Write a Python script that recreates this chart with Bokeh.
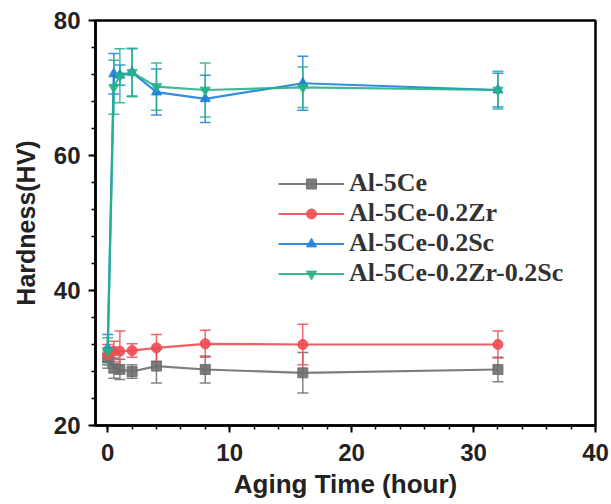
from bokeh.plotting import figure
from bokeh.models import (ColumnDataSource, Whisker, TeeHead, Legend, LegendItem,
                          SingleIntervalTicker, Range1d)
from bokeh.embed import file_html
from bokeh.resources import INLINE

# ---- data ----
time = [0, 0.5, 1, 2, 4, 8, 16, 32]
series_names = ["Al-5Ce", "Al-5Ce-0.2Zr", "Al-5Ce-0.2Sc", "Al-5Ce-0.2Zr-0.2Sc"]
al5ce = [30.0, 28.5, 28.3, 28.0, 28.8, 28.3, 27.8, 28.3]
al5ce_err = [1.5, 1.5, 1.5, 1.0, 2.5, 2.0, 3.0, 1.8]
al5ce_zr = [30.5, 31.0, 31.0, 31.1, 31.5, 32.1, 32.0, 32.0]
al5ce_zr_err = [1.5, 1.5, 3.0, 1.0, 2.0, 2.0, 3.0, 2.0]
al5ce_sc = [31.5, 72.1, 71.9, 72.3, 69.4, 68.4, 70.7, 69.7]
al5ce_sc_err = [2.0, 3.0, 1.5, 3.5, 3.4, 3.5, 4.0, 2.5]
al5ce_zrsc = [31.0, 70.1, 71.8, 72.3, 70.2, 69.7, 70.1, 69.7]
al5ce_zrsc_err = [2.0, 4.0, 4.0, 3.6, 3.5, 4.0, 3.0, 2.8]

colors = ["#6e6e6e", "#f04c50", "#1f7fdc", "#22b487"]
markers = ["square", "circle", "triangle", "inverted_triangle"]
values = [al5ce, al5ce_zr, al5ce_sc, al5ce_zrsc]
errors = [al5ce_err, al5ce_zr_err, al5ce_sc_err, al5ce_zrsc_err]

p = figure(width=611, height=504, output_backend="svg", toolbar_location=None,
           x_range=Range1d(-1.0, 40), y_range=Range1d(20, 80),
           min_border_left=95, min_border_right=16, min_border_top=20,
           min_border_bottom=79)
p.background_fill_color = "white"
p.border_fill_color = "white"
p.grid.visible = False
p.outline_line_color = "black"
p.outline_line_width = 2.5

items = []
for name, ys, es, c, m in zip(series_names, values, errors, colors, markers):
    src = ColumnDataSource(dict(x=time, y=ys,
                                up=[a + b for a, b in zip(ys, es)],
                                lo=[a - b for a, b in zip(ys, es)]))
    w = Whisker(base="x", upper="up", lower="lo", source=src, dimension="height",
                line_color=c, line_width=1.5, line_alpha=0.85,
                upper_head=TeeHead(size=11, line_color=c, line_width=1.5, line_alpha=0.85),
                lower_head=TeeHead(size=11, line_color=c, line_width=1.5, line_alpha=0.85))
    p.add_layout(w)
    ln = p.line("x", "y", source=src, line_color=c, line_width=2.2, line_alpha=0.9)
    sc = p.scatter("x", "y", source=src, marker=m, size=10, fill_color=c,
                   line_color=c, alpha=0.9)
    items.append(LegendItem(label=name, renderers=[ln, sc]))

legend = Legend(items=items, location=(183, 137), border_line_color=None,
                background_fill_alpha=0, label_text_font="Liberation Serif",
                label_text_font_style="bold", label_text_font_size="26px",
                label_text_color="#333333",
                glyph_width=66, glyph_height=25, label_height=25, spacing=0,
                padding=0, margin=0, label_standoff=5)
p.add_layout(legend, "center")

p.xaxis.ticker = SingleIntervalTicker(interval=10, num_minor_ticks=5)
p.yaxis.ticker = SingleIntervalTicker(interval=20, num_minor_ticks=5)
for ax in (p.xaxis, p.yaxis):
    ax.axis_line_width = 2.5
    ax.axis_line_color = "black"
    ax.major_tick_line_width = 2
    ax.minor_tick_line_width = 1.5
    ax.major_tick_in = 0
    ax.major_tick_out = 7
    ax.minor_tick_in = 0
    ax.minor_tick_out = 4
    ax.major_label_text_font = "Liberation Sans"
    ax.major_label_text_font_style = "bold"
    ax.major_label_text_font_size = "24px"
    ax.major_label_text_color = "#222222"
    ax.axis_label_text_font = "Liberation Sans"
    ax.axis_label_text_font_style = "bold"
    ax.axis_label_text_color = "#222222"
p.xaxis.axis_label = "Aging Time (hour)"
p.yaxis.axis_label = "Hardness(HV)"
p.xaxis.axis_label_text_font_size = "26px"
p.yaxis.axis_label_text_font_size = "25px"
p.xaxis.major_label_standoff = 11
p.xaxis.axis_label_standoff = 5
p.yaxis.major_label_standoff = 8
p.yaxis.axis_label_standoff = 11

open("out.html", "w").write(file_html(p, INLINE))
